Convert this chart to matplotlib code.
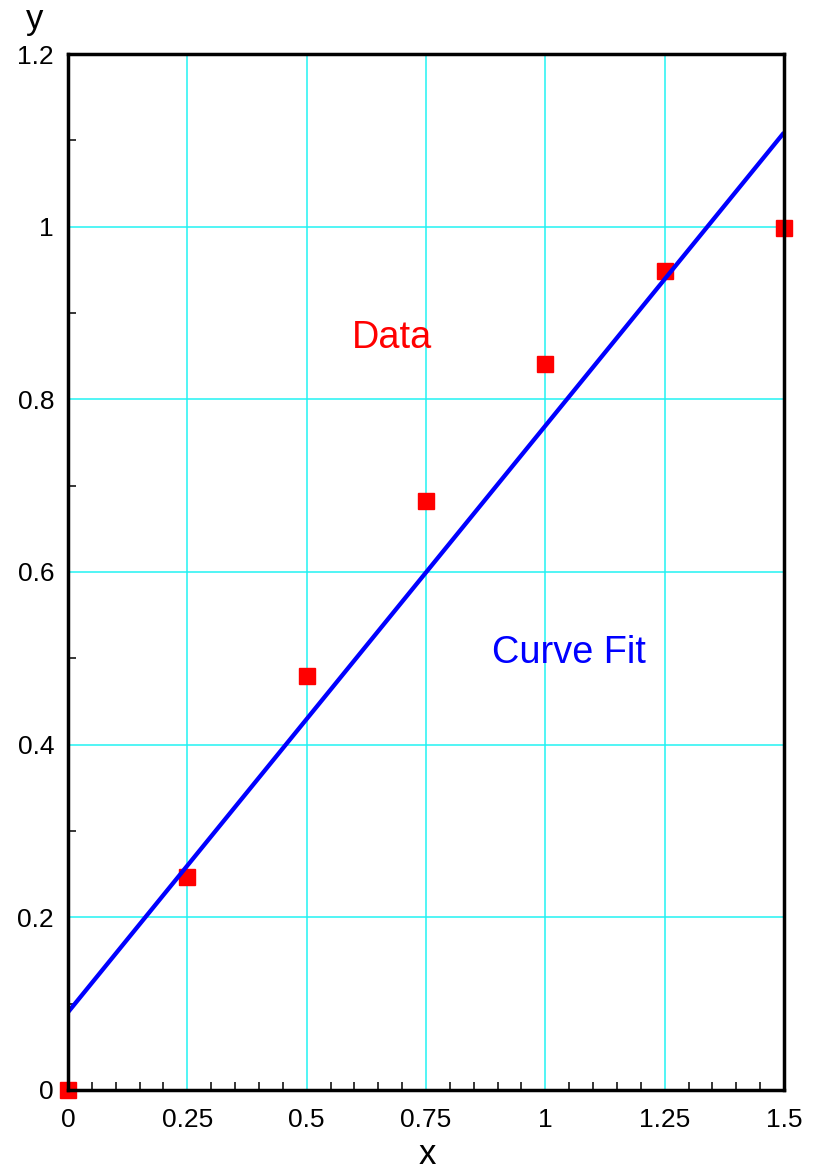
import matplotlib
matplotlib.use("Agg")
import matplotlib.pyplot as plt
from matplotlib.ticker import MultipleLocator

plt.rcParams['font.family'] = ['Liberation Sans', 'DejaVu Sans']

# Measured samples
x_data = [0.0, 0.25, 0.5, 0.75, 1.0, 1.25, 1.5]
y_data = [0.0, 0.247, 0.479, 0.682, 0.841, 0.949, 0.998]

# Straight-line fit through the samples (end points)
fit_x = [0.0, 1.5]
fit_y = [0.090, 1.109]

x_ticks = [0, 0.25, 0.5, 0.75, 1, 1.25, 1.5]
x_tick_labels = ["0", "0.25", "0.5", "0.75", "1", "1.25", "1.5"]
y_ticks = [0, 0.2, 0.4, 0.6, 0.8, 1.0, 1.2]
y_tick_labels = ["0", "0.2", "0.4", "0.6", "0.8", "1", "1.2"]

fig = plt.figure(figsize=(8.23, 11.72), dpi=100)
ax = fig.add_axes([0.0826, 0.0700, 0.8700, 0.8839])

ax.set_xlim(0, 1.5)
ax.set_ylim(0, 1.2)

ax.plot(fit_x, fit_y, color="#0000ff", lw=3.1, zorder=3, solid_capstyle="butt")
ax.plot(x_data, y_data, ls="none", marker="s", ms=11.5, color="#ff0000",
        mec="#ff0000", zorder=2.6, clip_on=False)

ax.set_xticks(x_ticks)
ax.set_xticklabels(x_tick_labels)
ax.set_yticks(y_ticks)
ax.set_yticklabels(y_tick_labels)
ax.xaxis.set_minor_locator(MultipleLocator(0.05))
ax.yaxis.set_minor_locator(MultipleLocator(0.1))

ax.tick_params(which="major", length=0, labelsize=19, pad=10)
ax.tick_params(axis="x", which="major", pad=13)
ax.tick_params(which="minor", direction="in", length=6, width=1.1, color="black")
ax.tick_params(top=False, right=False, which="both")

ax.grid(True, which="major", color="#22f2f2", lw=1.1, zorder=1)
ax.set_axisbelow(True)

for sp in ax.spines.values():
    sp.set_linewidth(2.5)
    sp.set_zorder(4)

ax.text(0.595, 0.871, "Data", color="#ff0000", fontsize=27.3, va="center", ha="left")
ax.text(0.888, 0.506, "Curve Fit", color="#0000ff", fontsize=27.3, va="center", ha="left")

fig.text(427 / 823, 1 - 1155 / 1172, "x", fontsize=25, ha="center", va="center")
fig.text(35 / 823, 1 - 20 / 1172, "y", fontsize=25, ha="center", va="center")

fig.savefig("out.png", dpi=100)
